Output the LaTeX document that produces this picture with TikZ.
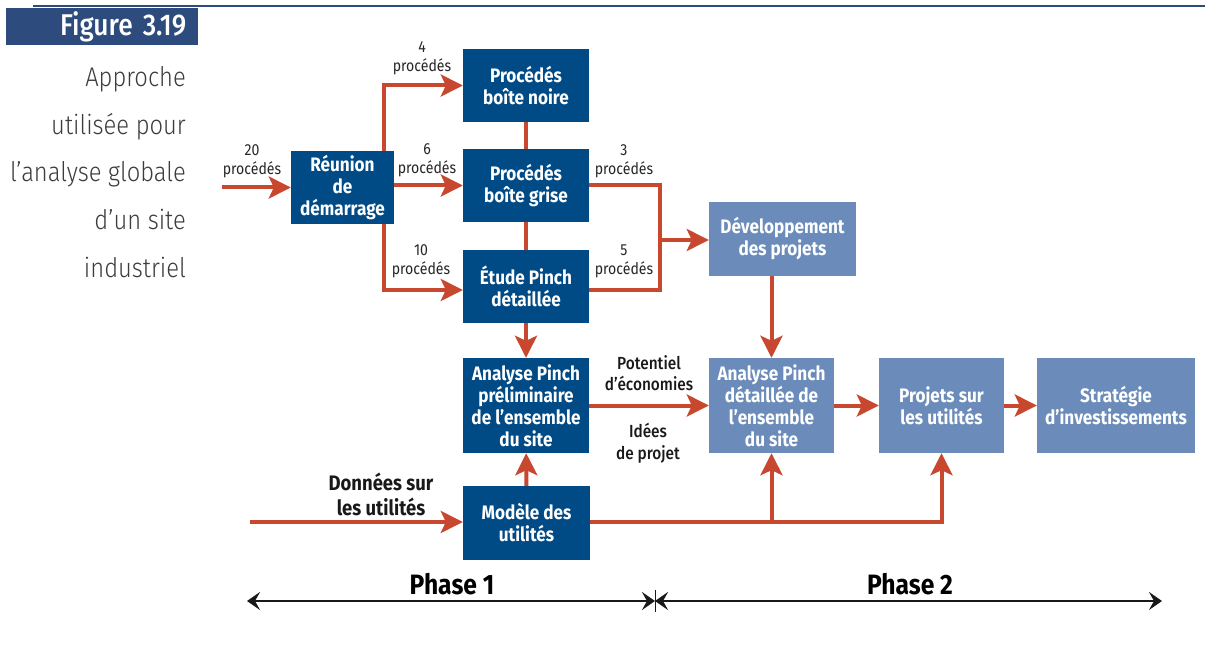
\documentclass[tikz,border=0pt]{standalone}
\usepackage{fontspec}
\setmainfont{Fira Sans}[FakeStretch=0.88]
\newfontfamily\lightfont{Fira Sans Light}[FakeStretch=0.88]
\newfontfamily\mediumfont{Fira Sans Medium}[FakeStretch=0.88]
\usetikzlibrary{arrows.meta}

\definecolor{figblue}{HTML}{2D4B7C}
\definecolor{boxdark}{HTML}{004A86}
\definecolor{boxlight}{HTML}{6B8CBA}
\definecolor{flowred}{HTML}{C8482F}
\definecolor{captiongray}{HTML}{3C3C3C}

\tikzset{
  darkbox/.style={fill=boxdark, text=white, font=\bfseries\fontsize{19.5}{22}\selectfont,
    align=center, inner sep=0pt, minimum width=126pt, minimum height=73pt},
  lightbox/.style={darkbox, fill=boxlight},
  flow/.style={draw=flowred, line width=4pt},
  flowarrow/.style={flow, -{Stealth[length=22pt,width=22pt,inset=5pt]}},
  countlabel/.style={align=center, inner sep=0pt, text=black!85,
    font=\fontsize{16}{19}\selectfont},
  sidelabel/.style={align=center, inner sep=0pt, text=black!90,
    font=\mediumfont\fontsize{17.5}{21.5}\selectfont},
  phase/.style={draw=black!90, line width=2pt,
    {Stealth[length=13pt,width=18pt,inset=5pt]}-{Stealth[length=13pt,width=18pt,inset=5pt]}},
  phaselabel/.style={inner sep=0pt, font=\bfseries\fontsize{28}{28}\selectfont},
  figtag/.style={fill=figblue, text=white, text width=168pt, inner xsep=12pt,
    inner ysep=0pt, minimum height=37pt, align=right, font=\mediumfont\fontsize{30}{30}\selectfont}
}

\begin{document}
\begin{tikzpicture}[x=1pt, y=-1pt]
  \useasboundingbox (0,0) rectangle (1212,652);

  % Header
  \draw[figblue, line width=2pt] (33,6) -- (1205,6);
  \node (figlabel) [figtag, anchor=north west] at (6,8) {Figure 3.19};
  \node (caption) [anchor=north east, align=right, inner sep=0pt, text=captiongray,
    font=\lightfont\fontsize{27}{47.8}\selectfont] at (186,66)
    {Approche\\utilisée pour\\l’analyse globale\\d’un site\\industriel};

  % Phase 1 boxes
  \node (reunion) [darkbox, minimum width=103pt] at (342.5,187.5) {Réunion\\de\\démarrage};
  \node (noire) [darkbox] at (526,85.5) {Procédés\\boîte noire};
  \node (grise) [darkbox] at (526,185.5) {Procédés\\boîte grise};
  \node (etude) [darkbox] at (526,286.5) {Étude Pinch\\détaillée};
  \node (prelim) [darkbox, minimum height=95pt] at (526,405.5)
    {Analyse Pinch\\préliminaire\\de l’ensemble\\du site};
  \node (modele) [darkbox, minimum width=127pt, minimum height=74pt] at (526.5,523) {Modèle des\\utilités};

  % Phase 2 boxes
  \node (devel) [lightbox, minimum width=147pt, minimum height=74pt] at (782.5,239)
    {Développement\\des projets};
  \node (detail) [lightbox, minimum width=125pt, minimum height=95pt] at (771.5,405.5)
    {Analyse Pinch\\détaillée de\\l’ensemble\\du site};
  \node (projets) [lightbox, minimum width=125pt, minimum height=95pt] at (941.5,405.5)
    {Projets sur\\les utilités};
  \node (strategie) [lightbox, minimum width=158pt, minimum height=95pt] at (1116,405.5)
    {Stratégie\\d’investissements};

  % Free ends and turning points
  \coordinate (in20) at (222,187.5);
  \coordinate (topturn) at (384,85.5);
  \coordinate (botturn) at (384,290);
  \coordinate (merge) at (660,240);
  \coordinate (datain) at (250,522);

  % Split of the processes
  \draw[flowarrow] (in20) -- (reunion.west);
  \draw[flowarrow] (reunion.north -| topturn) -- (topturn) -- (noire.west |- topturn);
  \draw[flowarrow] (reunion.east |- grise.west) -- (grise.west);
  \draw[flowarrow] (reunion.south -| botturn) -- (botturn) -- (etude.west |- botturn);
  \draw[flow] (noire) -- (grise);
  \draw[flow] (grise) -- (etude);
  \draw[flowarrow] (etude) -- (prelim);

  % Merge towards the projects
  \draw[flow] (grise.east) -| (merge);
  \draw[flow] (etude.east |- botturn) -| (merge);
  \draw[flowarrow] (merge) -- (devel.west |- merge);
  \draw[flowarrow] (devel.south -| detail) -- (detail.north);

  % Main line
  \draw[flowarrow] (prelim) -- (detail);
  \draw[flowarrow] (detail) -- (projets);
  \draw[flowarrow] (projets) -- (strategie);

  % Utilities model
  \draw[flowarrow] (datain) -- (modele.west |- datain);
  \draw[flowarrow] (modele) -- (prelim);
  \draw[flowarrow] (modele.east |- datain) -| (projets.south);
  \draw[flowarrow] (detail.south |- datain) -- (detail.south);

  % Labels on connectors
  \node (lbl20) [countlabel] at (252,161) {20\\procédés};
  \node (lbl4) [countlabel] at (422,58) {4\\procédés};
  \node (lbl6) [countlabel] at (427,160) {6\\procédés};
  \node (lbl10) [countlabel] at (421,261) {10\\procédés};
  \node (lbl3) [countlabel] at (624,161) {3\\procédés};
  \node (lbl5) [countlabel] at (624,261) {5\\procédés};
  \node (potentiel) [sidelabel] at (649,373) {Potentiel\\d’économies};
  \node (idees) [sidelabel] at (648,443) {Idées\\de projet};
  \node (donnees) [sidelabel, font=\bfseries\fontsize{21}{25}\selectfont] at (381,494)
    {Données sur\\les utilités};

  % Phases
  \coordinate (p1start) at (247,601);
  \coordinate (pmid) at (655,601);
  \coordinate (p2end) at (1162,601);
  \draw[phase] (p1start) -- (pmid);
  \draw[phase] (pmid) -- (p2end);
  \draw[black!90, line width=0.8pt] ([yshift=-11pt]pmid) -- ([yshift=11pt]pmid);
  \node (phase1) [phaselabel] at (452,584) {Phase 1};
  \node (phase2) [phaselabel] at (910,584) {Phase 2};
\end{tikzpicture}
\end{document}
